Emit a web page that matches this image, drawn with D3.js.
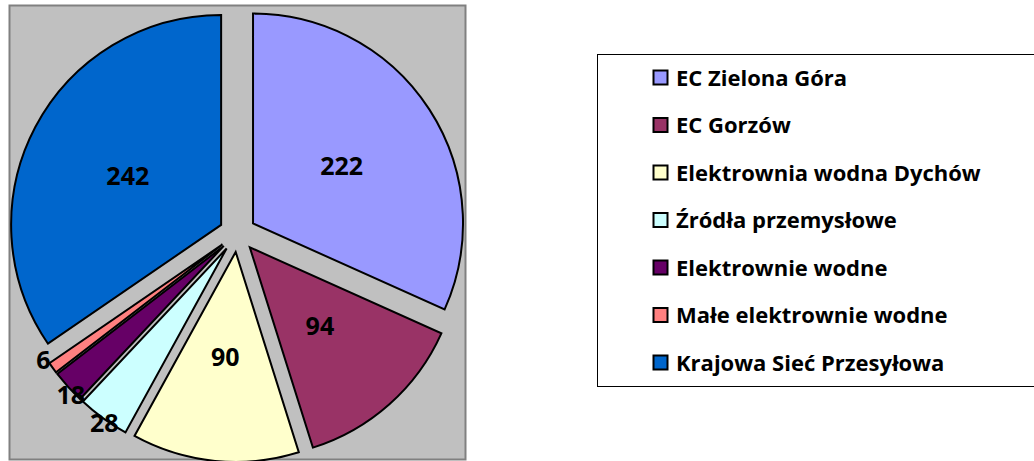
<!DOCTYPE html>
<html>
<head>
<meta charset="utf-8">
<script src="https://cdn.jsdelivr.net/npm/d3@7"></script>
<style>
  body { margin: 0; background: #fff; }
  svg { display: block; font-family: "Open Sans", sans-serif; }
</style>
</head>
<body>
<svg id="chart" width="1034" height="461"></svg>
<script>
// source values
var categories = ["EC Zielona Góra", "EC Gorzów", "Elektrownia wodna Dychów",
  "Źródła przemysłowe", "Elektrownie wodne", "Małe elektrownie wodne",
  "Krajowa Sieć Przesyłowa"];
var values = [222, 94, 90, 28, 18, 6, 242];
var colors = ["#9999FF", "#993366", "#FFFFCC", "#CCFFFF", "#660066", "#FF8080", "#0066CC"];

var svg = d3.select("#chart");

// plot area
svg.append("rect")
  .attr("x", 9.5).attr("y", 5.5)
  .attr("width", 456).attr("height", 454)
  .style("fill", "#C0C0C0")
  .style("stroke", "#808080")
  .style("stroke-width", 2);

var cx = 237.5, cy = 233.5, radius = 210, explode = 18.5;

var data = categories.map(function (c, i) { return { k: c, v: values[i], c: colors[i] } });

var pie = d3.pie().sort(null).value(function (d) { return d.v });
var arc = d3.arc().innerRadius(0).outerRadius(radius);
var arcs = pie(data);

function polar(a, r) { return [Math.sin(a) * r, -Math.cos(a) * r] }
function mid(d) { return (d.startAngle + d.endAngle) / 2 }

var g = svg.append("g").attr("transform", "translate(" + cx + "," + cy + ")");

g.selectAll("path")
  .data(arcs)
  .enter().append("path")
  .attr("d", arc)
  .attr("transform", function (d) { return "translate(" + polar(mid(d), explode) + ")" })
  .style("fill", function (d) { return d.data.c })
  .style("stroke", "#000")
  .style("stroke-width", 2)
  .style("stroke-linejoin", "miter");

// label angles; small slices get their labels outside, spread apart
arcs.forEach(function (d) {
  d.small = d.endAngle - d.startAngle < 0.3;
  d.la = mid(d);
});
var small = arcs.filter(function (d) { return d.small });
for (var it = 0; it < 50; it++) {
  for (var i = 1; i < small.length; i++) {
    var gap = small[i].la - small[i - 1].la;
    if (gap < 0.19) {
      var push = (0.19 - gap) / 2;
      small[i].la += push;
      small[i - 1].la -= push;
    }
  }
}

g.selectAll("text")
  .data(arcs)
  .enter().append("text")
  .attr("transform", function (d) {
    return "translate(" + polar(d.la, d.small ? 232 : 124) + ")";
  })
  .attr("text-anchor", "middle")
  .attr("dy", "0.36em")
  .style("font-size", "25px")
  .style("font-weight", "bold")
  .style("fill", "#000")
  .text(function (d) { return d.data.v });

// legend
var legend = svg.append("g");
legend.append("rect")
  .attr("x", 597.5).attr("y", 54.5)
  .attr("width", 460).attr("height", 332)
  .style("fill", "#fff")
  .style("stroke", "#000")
  .style("stroke-width", 1);

var items = legend.selectAll("g[data-item]")
  .data(data)
  .enter().append("g")
  .attr("data-item", function (d) { return d.k })
  .attr("transform", function (d, i) { return "translate(653," + (78 + i * 47.5) + ")" });

items.append("rect")
  .attr("x", 0.5).attr("y", -7.5)
  .attr("width", 14).attr("height", 14)
  .style("fill", function (d) { return d.c })
  .style("stroke", "#000")
  .style("stroke-width", 2);

items.append("text")
  .attr("x", 23)
  .attr("dy", "0.36em")
  .style("font-size", "22px")
  .style("font-weight", "bold")
  .style("fill", "#000")
  .text(function (d) { return d.k });
</script>
</body>
</html>
